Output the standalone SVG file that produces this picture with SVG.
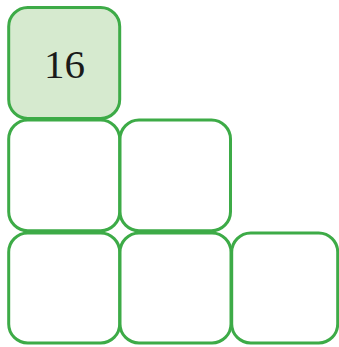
<svg xmlns="http://www.w3.org/2000/svg" width="339" height="347" viewBox="0 0 339 347">
<style>
.cell{fill:#ffffff;stroke:#3dab47;stroke-width:3}
.shaded{fill:#d6eacf}
.num{font-family:"Liberation Serif","Times New Roman",serif;font-size:41px;fill:#1a1a1a;text-anchor:middle}
</style>
<rect width="339" height="347" fill="#ffffff"/>
<g id="cell-r1c1"><rect class="cell shaded" x="8.7" y="7.5" width="111" height="111" rx="19"/><text class="num" x="64.5" y="78.3">16</text></g>
<g id="cell-r2c1"><rect class="cell" x="8.7" y="120" width="111" height="110.7" rx="19"/></g>
<g id="cell-r2c2"><rect class="cell" x="120" y="120" width="110.5" height="110.7" rx="19"/></g>
<g id="cell-r3c1"><rect class="cell" x="8.7" y="233" width="111" height="110" rx="19"/></g>
<g id="cell-r3c2"><rect class="cell" x="120" y="233" width="111" height="110" rx="19"/></g>
<g id="cell-r3c3"><rect class="cell" x="231.7" y="233" width="106" height="110" rx="19"/></g>
<g id="connectors"></g>
</svg>
